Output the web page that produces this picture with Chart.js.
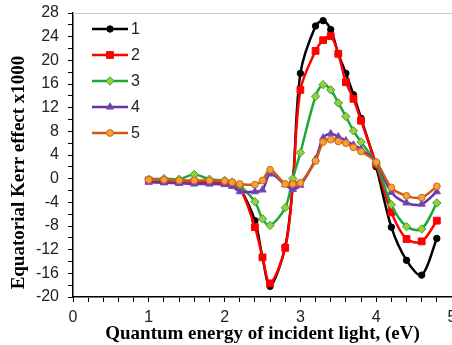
<!DOCTYPE html>
<html>
<head>
<meta charset="utf-8">
<title>Equatorial Kerr effect</title>
<script src="https://cdn.jsdelivr.net/npm/chart.js@4/dist/chart.umd.min.js"></script>
<style>
    html, body { margin: 0; padding: 0; background: #fff; overflow: hidden; }
    #wrap { width: 462px; height: 345px; }
</style>
</head>
<body>
<div id="wrap"><canvas id="kerr" width="462" height="345"></canvas></div>
<script>
// Energía del fotón (eV)
const energy = [1.0, 1.2, 1.4, 1.6, 1.8, 2.0, 2.1, 2.2, 2.4, 2.5, 2.6, 2.8, 2.9,
                3.0, 3.2, 3.3, 3.4, 3.5, 3.6, 3.7, 3.8, 4.0, 4.2, 4.4, 4.6, 4.8];

// Efecto Kerr ecuatorial x1000, una serie por muestra
const sample1 = [-0.3, -0.3, -0.4, -0.4, -0.5, -0.6, -0.8, -1.6, -7.1, -13.3, -18.2, -11.5, -0.8,
                 17.8, 25.8, 26.7, 25.2, 21.1, 17.8, 14.2, 10.2, 2.0, -8.2, -13.8, -16.3, -10.1];
const sample2 = [-0.3, -0.4, -0.5, -0.5, -0.6, -0.7, -0.9, -1.4, -8.2, -13.3, -17.7, -11.7, -1.0,
                 15.0, 21.6, 23.4, 24.1, 21.1, 16.3, 13.5, 9.8, 2.4, -5.7, -10.2, -10.6, -7.1];
const sample3 = [-0.1, 0.0, -0.1, 0.7, -0.1, -0.3, -0.6, -1.2, -3.9, -6.8, -7.9, -4.9, 0.0,
                 4.4, 13.9, 15.9, 15.0, 12.8, 10.5, 8.1, 6.2, 2.6, -4.4, -8.1, -8.5, -4.1];
const sample4 = [-0.6, -0.7, -0.8, -0.9, -0.9, -1.0, -1.3, -2.2, -2.2, -1.9, 0.8, -1.0, -1.8,
                 -1.1, 3.3, 6.9, 7.6, 7.1, 6.4, 5.7, 5.0, 2.8, -2.3, -4.1, -4.3, -2.2];
const sample5 = [-0.2, -0.2, -0.3, -0.3, -0.3, -0.4, -0.6, -0.9, -1.0, -0.3, 1.5, -0.9, -0.9,
                 -0.7, 3.0, 6.2, 6.6, 6.3, 6.0, 5.3, 4.6, 2.8, -1.5, -2.9, -3.2, -1.3];

const seriesNames = ['1', '2', '3', '4', '5'];
const seriesValues = [sample1, sample2, sample3, sample4, sample5];

const xTitle = 'Quantum energy of incident light, (eV)';
const yTitle = 'Equatorial Kerr effect x1000';

// Estilos tipo Excel para cada serie
const seriesStyle = [
    { line: '#000000', fill: '#000000', edge: '#000000', shape: 'circle',   r: 3.2 },
    { line: '#ff0000', fill: '#ff0000', edge: '#ff0000', shape: 'rect',     r: 4.8 },
    { line: '#1fa83a', fill: '#9ccc3c', edge: '#2aa83a', shape: 'rectRot',  r: 4.2 },
    { line: '#6a32a8', fill: '#7040b0', edge: '#7a4cc0', shape: 'triangle', r: 4.2 },
    { line: '#cc5a16', fill: '#f2a236', edge: '#d0641c', shape: 'circle',   r: 3.4 }
];

const serif = "'Liberation Serif', 'DejaVu Serif', serif";
const sans = "'Liberation Sans', Arial, sans-serif";

const datasets = seriesValues.map((vals, i) => ({
    label: seriesNames[i],
    data: energy.map((x, k) => ({ x: x, y: vals[k] })),
    borderColor: seriesStyle[i].line,
    backgroundColor: seriesStyle[i].fill,
    borderWidth: 2.5,
    tension: 0.32,
    pointStyle: seriesStyle[i].shape,
    pointRadius: seriesStyle[i].r,
    pointBackgroundColor: seriesStyle[i].fill,
    pointBorderColor: seriesStyle[i].edge,
    pointBorderWidth: 1,
    order: seriesValues.length - i   // la serie 5 queda encima
}));

// Dibuja un marcador sencillo para la leyenda
function drawMarker(ctx, st, x, y) {
    ctx.save();
    ctx.fillStyle = st.fill;
    ctx.strokeStyle = st.edge;
    ctx.lineWidth = 1;
    ctx.beginPath();
    if (st.shape === 'circle') {
        ctx.arc(x, y, st.r, 0, Math.PI * 2);
    } else if (st.shape === 'rect') {
        const s = st.r * Math.SQRT1_2;
        ctx.rect(x - s, y - s, s * 2, s * 2);
    } else if (st.shape === 'rectRot') {
        ctx.moveTo(x, y - st.r);
        ctx.lineTo(x + st.r, y);
        ctx.lineTo(x, y + st.r);
        ctx.lineTo(x - st.r, y);
        ctx.closePath();
    } else {
        const h = st.r * 1.5;
        ctx.moveTo(x, y - st.r);
        ctx.lineTo(x + st.r * 0.87, y + h - st.r);
        ctx.lineTo(x - st.r * 0.87, y + h - st.r);
        ctx.closePath();
    }
    ctx.fill();
    ctx.stroke();
    ctx.restore();
}

// Borde superior, título vertical y leyenda dentro del gráfico
const excelLook = {
    id: 'excelLook',
    afterDraw(chart) {
        const { ctx, chartArea } = chart;
        ctx.save();
        ctx.strokeStyle = '#c8c8c8';
        ctx.lineWidth = 1;
        ctx.beginPath();
        ctx.moveTo(chartArea.left, chartArea.top + 0.5);
        ctx.lineTo(chartArea.right, chartArea.top + 0.5);
        ctx.stroke();

        // título del eje Y (centrado en la altura total, como en Excel)
        ctx.save();
        ctx.translate(19, chart.height / 2);
        ctx.rotate(-Math.PI / 2);
        ctx.fillStyle = '#000';
        ctx.font = 'bold 19px ' + serif;
        ctx.textAlign = 'center';
        ctx.textBaseline = 'middle';
        ctx.fillText(yTitle, 0, 0);
        ctx.restore();

        const x0 = chartArea.left + 19;
        seriesNames.forEach((name, i) => {
            const y = chartArea.top + 16 + i * 26;
            ctx.strokeStyle = seriesStyle[i].line;
            ctx.lineWidth = 2.5;
            ctx.beginPath();
            ctx.moveTo(x0, y);
            ctx.lineTo(x0 + 36, y);
            ctx.stroke();
            drawMarker(ctx, seriesStyle[i], x0 + 18, y);
            ctx.fillStyle = '#222';
            ctx.font = '16px ' + sans;
            ctx.textBaseline = 'middle';
            ctx.fillText(name, x0 + 39, y + 1);
        });
        ctx.restore();
    }
};

function isStep(v, step) {
    return Math.abs(v / step - Math.round(v / step)) < 1e-6;
}

new Chart(document.getElementById('kerr'), {
    type: 'line',
    data: { datasets: datasets },
    options: {
        responsive: false,
        animation: false,
        layout: { padding: { top: 13, right: 10, left: 0, bottom: 0 } },
        plugins: {
            legend: { display: false },
            tooltip: { enabled: false }
        },
        scales: {
            x: {
                type: 'linear',
                min: 0,
                max: 5,
                afterFit: (scale) => {
                    scale.height = 48;
                    scale.paddingRight = 0;
                },
                ticks: {
                    stepSize: 0.2,
                    autoSkip: false,
                    maxRotation: 0,
                    padding: 6,
                    color: '#222',
                    font: { family: sans, size: 16 },
                    callback: (v) => isStep(v, 1) ? Math.round(v) : ''
                },
                grid: { drawOnChartArea: false, tickLength: 5, tickColor: '#000', tickWidth: 1 },
                border: { color: '#000', width: 1.5 },
                title: {
                    display: true,
                    text: xTitle,
                    color: '#000',
                    font: { family: serif, size: 19, weight: 'bold' },
                    padding: { top: 0, bottom: 0 }
                }
            },
            y: {
                min: -20,
                max: 28,
                afterFit: (scale) => {
                    // ancho fijo y sin relleno extra arriba/abajo
                    scale.width = 73;
                    scale.paddingTop = 0;
                    scale.paddingBottom = 0;
                },
                ticks: {
                    stepSize: 2,
                    autoSkip: false,
                    padding: 9,
                    color: '#222',
                    font: { family: sans, size: 16 },
                    callback: (v) => isStep(v, 4) ? v : ''
                },
                grid: { drawOnChartArea: false, tickLength: 5, tickColor: '#000', tickWidth: 1 },
                border: { color: '#000', width: 1.5 }
            }
        }
    },
    plugins: [excelLook]
});
</script>
</body>
</html>
